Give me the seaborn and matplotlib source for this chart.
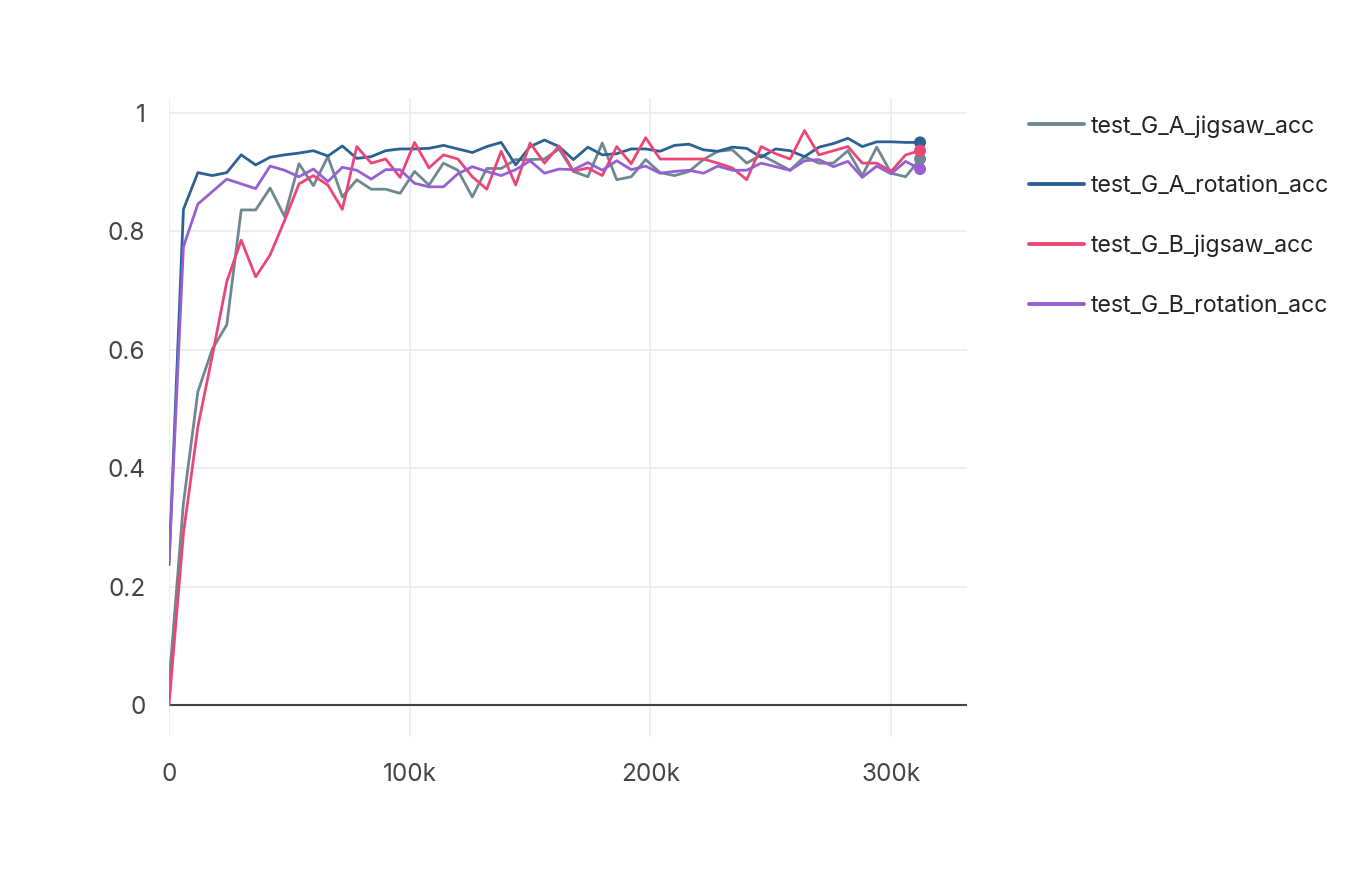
import numpy as np
import pandas as pd
import matplotlib
matplotlib.use("Agg")
import matplotlib.pyplot as plt
import seaborn as sns
from matplotlib.lines import Line2D

steps = [i * 6000 for i in range(53)]

g_a_jigsaw = [0.035, 0.341, 0.529, 0.601, 0.642, 0.836, 0.836, 0.873, 0.825, 0.914,
              0.877, 0.926, 0.858, 0.887, 0.871, 0.871, 0.864, 0.901, 0.878, 0.915,
              0.903, 0.858, 0.906, 0.906, 0.921, 0.921, 0.922, 0.939, 0.901, 0.892,
              0.949, 0.887, 0.892, 0.921, 0.899, 0.894, 0.901, 0.921, 0.935, 0.9375,
              0.915, 0.929, 0.916, 0.903, 0.926, 0.915, 0.915, 0.936, 0.894, 0.942,
              0.898, 0.892, 0.922]

g_a_rotation = [0.237, 0.837, 0.899, 0.894, 0.899, 0.929, 0.912, 0.925, 0.929, 0.932,
                0.936, 0.927, 0.944, 0.923, 0.926, 0.936, 0.939, 0.939, 0.940, 0.945,
                0.939, 0.933, 0.943, 0.950, 0.912, 0.943, 0.954, 0.943, 0.921, 0.942,
                0.929, 0.931, 0.939, 0.939, 0.935, 0.945, 0.947, 0.9375, 0.935, 0.942,
                0.940, 0.925, 0.939, 0.936, 0.926, 0.942, 0.948, 0.957, 0.943, 0.951,
                0.951, 0.950, 0.950]

g_b_jigsaw = [0.0, 0.29, 0.470, 0.590, 0.715, 0.785, 0.723, 0.760, 0.818, 0.880,
              0.894, 0.878, 0.837, 0.943, 0.915, 0.922, 0.891, 0.950, 0.907, 0.929,
              0.922, 0.892, 0.871, 0.935, 0.878, 0.949, 0.915, 0.944, 0.901, 0.907,
              0.894, 0.943, 0.914, 0.958, 0.922, 0.922, 0.922, 0.922, 0.915, 0.907,
              0.887, 0.943, 0.931, 0.922, 0.970, 0.929, 0.936, 0.943, 0.915, 0.915,
              0.901, 0.929, 0.936]

g_b_rotation = [0.24, 0.774, 0.846, 0.867, 0.888, 0.880, 0.872, 0.910, 0.903, 0.892,
                0.905, 0.884, 0.908, 0.903, 0.888, 0.904, 0.904, 0.881, 0.875, 0.875,
                0.897, 0.909, 0.901, 0.894, 0.904, 0.919, 0.898, 0.905, 0.904, 0.916,
                0.903, 0.919, 0.904, 0.910, 0.898, 0.901, 0.903, 0.898, 0.910, 0.903,
                0.903, 0.915, 0.909, 0.903, 0.919, 0.921, 0.909, 0.918, 0.891, 0.910,
                0.897, 0.918, 0.905]

series_names = ["test_G_A_jigsaw_acc", "test_G_A_rotation_acc",
                "test_G_B_jigsaw_acc", "test_G_B_rotation_acc"]
series_values = [g_a_jigsaw, g_a_rotation, g_b_jigsaw, g_b_rotation]
colors = ["#6e8892", "#2c6194", "#ec4677", "#9660d2"]

x_ticks = [0, 100000, 200000, 300000]
x_tick_labels = ["0", "100k", "200k", "300k"]
y_ticks = [0, 0.2, 0.4, 0.6, 0.8, 1.0]
y_tick_labels = ["0", "0.2", "0.4", "0.6", "0.8", "1"]

df = pd.concat([pd.DataFrame({"step": steps, "value": v, "series": n})
                for n, v in zip(series_names, series_values)], ignore_index=True)

sns.set_theme(style="white")
plt.rcParams["font.family"] = ["Inter", "DejaVu Sans"]

fig = plt.figure(figsize=(13.66, 8.96), dpi=100)
ax = fig.add_axes([169 / 1366, 1 - 737 / 896, (967 - 169) / 1366, (737 - 98) / 896])

palette = dict(zip(series_names, colors))
sns.lineplot(data=df, x="step", y="value", hue="series", palette=palette,
             linewidth=2.0, ax=ax, legend=False, zorder=3)

last = df[df["step"] == steps[-1]]
sns.scatterplot(data=last, x="step", y="value", hue="series", palette=palette,
                s=75, edgecolor="none", ax=ax, legend=False, zorder=4)

ax.set_xlim(0, 331500)
ax.set_ylim(-0.054, 1.025)
ax.set_xticks(x_ticks)
ax.set_xticklabels(x_tick_labels)
ax.set_yticks(y_ticks)
ax.set_yticklabels(y_tick_labels)
ax.grid(True, color="#ebebeb", linewidth=1.2, zorder=0)
ax.set_axisbelow(True)
ax.axhline(0, color="#444444", linewidth=1.5, zorder=2)
for s in ax.spines.values():
    s.set_visible(False)
ax.tick_params(axis="both", length=0, labelsize=17.5, colors="#444444")
ax.tick_params(axis="x", pad=19)
ax.tick_params(axis="y", pad=17)
ax.set_xlabel("")
ax.set_ylabel("")

handles = [Line2D([0], [0], color=c, linewidth=2.8) for c in colors]
fig.legend(handles, series_names, loc="upper left",
           bbox_to_anchor=(1029 / 1366, 1 - 115 / 896), frameon=False,
           fontsize=16.6, handlelength=2.4, handletextpad=0.26,
           labelspacing=1.63, borderpad=0, borderaxespad=0, labelcolor="#222222")

fig.savefig("out.png", dpi=100, facecolor="white")
